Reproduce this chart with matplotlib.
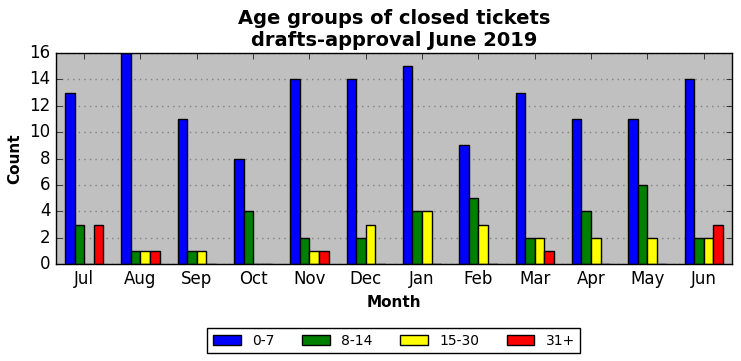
import matplotlib
matplotlib.use('Agg')
import matplotlib.pyplot as plt
import numpy as np

plt.style.use('classic')

months = ['Jul', 'Aug', 'Sep', 'Oct', 'Nov', 'Dec',
          'Jan', 'Feb', 'Mar', 'Apr', 'May', 'Jun']
groups = ['0-7', '8-14', '15-30', '31+']
age_0_7 = [13, 16, 11, 8, 14, 14, 15, 9, 13, 11, 11, 14]
age_8_14 = [3, 1, 1, 4, 2, 2, 4, 5, 2, 4, 6, 2]
age_15_30 = [0, 1, 1, 0, 1, 3, 4, 3, 2, 2, 2, 2]
age_31 = [3, 1, 0, 0, 1, 0, 0, 0, 1, 0, 0, 3]
colors = ['blue', 'green', 'yellow', 'red']

series = [age_0_7, age_8_14, age_15_30, age_31]

fig = plt.figure(figsize=(7.41, 3.61), dpi=100, facecolor='white')
ax = fig.add_axes([0.0756, 0.268, 0.912, 0.585])
ax.set_facecolor('#c0c0c0')

x = np.arange(len(months))
w = 0.17
for i, (vals, c, lab) in enumerate(zip(series, colors, groups)):
    ax.bar(x + (i - 1.5) * w, vals, w, color=c, edgecolor='black',
           linewidth=1, label=lab, align='center')

ax.set_xlim(-0.5, len(months) - 0.5)
ax.set_ylim(0, 16)
ax.set_yticks(range(0, 17, 2))
ax.set_xticks(x)
ax.set_xticklabels(months, fontsize=12)
ax.tick_params(axis='y', labelsize=12)
ax.yaxis.grid(True, color='gray', linestyle=':', linewidth=1)
ax.set_axisbelow(True)

ax.set_title('Age groups of closed tickets\ndrafts-approval June 2019',
             fontsize=14, fontweight='bold')
ax.set_xlabel('Month', fontsize=11, fontweight='bold')
ax.set_ylabel('Count', fontsize=11, fontweight='bold')

ax.legend(loc='upper center', bbox_to_anchor=(0.5, -0.27), ncol=4,
          fontsize=10, fancybox=False, frameon=True, handlelength=2,
          columnspacing=2, handletextpad=0.8)

fig.savefig('out.png', dpi=100, facecolor='white')
